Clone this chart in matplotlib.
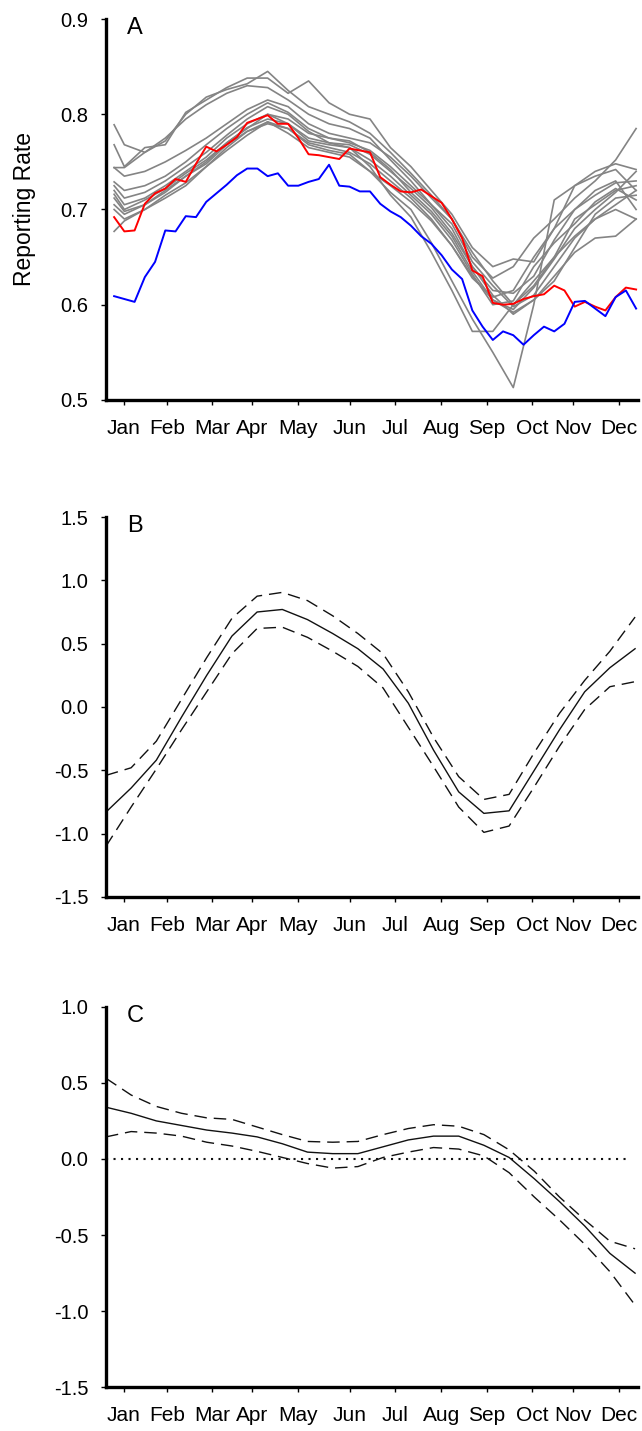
"""
Seasonal reporting rate: raw weekly curves (A), seasonal effect (B)
and its change (C) with confidence bands.
"""
import numpy as np
import matplotlib
matplotlib.use("Agg")
import matplotlib.pyplot as plt
from matplotlib.ticker import FormatStrFormatter

plt.rcParams["font.family"] = ["Liberation Sans", "DejaVu Sans"]
plt.rcParams["axes.unicode_minus"] = False

MONTHS = ["Jan", "Feb", "Mar", "Apr", "May", "Jun",
          "Jul", "Aug", "Sep", "Oct", "Nov", "Dec"]
MONTH_TICKS = [1.96, 6.16, 10.56, 14.47, 18.97, 24.05,
               28.45, 32.95, 37.44, 41.84, 45.85, 50.35]

# panel A: weekly reporting rate
WEEKS = list(range(1, 53))
RED = [0.692, 0.677, 0.678, 0.706, 0.717, 0.722, 0.732, 0.729, 0.748, 0.766,
       0.761, 0.768, 0.776, 0.791, 0.795, 0.799, 0.790, 0.790, 0.775, 0.758,
       0.757, 0.755, 0.753, 0.764, 0.762, 0.760, 0.734, 0.726, 0.719, 0.718,
       0.721, 0.714, 0.707, 0.690, 0.670, 0.636, 0.630, 0.602, 0.600, 0.601,
       0.606, 0.609, 0.611, 0.620, 0.615, 0.598, 0.603, 0.598, 0.594, 0.608,
       0.618, 0.616]
BLUE = [0.609, 0.606, 0.603, 0.629, 0.645, 0.678, 0.677, 0.693, 0.692, 0.708,
        0.717, 0.726, 0.736, 0.743, 0.743, 0.735, 0.738, 0.725, 0.725, 0.729,
        0.732, 0.747, 0.725, 0.724, 0.719, 0.719, 0.706, 0.698, 0.692, 0.683,
        0.672, 0.664, 0.652, 0.637, 0.627, 0.594, 0.577, 0.563, 0.572, 0.568,
        0.558, 0.568, 0.577, 0.572, 0.580, 0.603, 0.604, 0.596, 0.588, 0.608,
        0.615, 0.596]

GRAY_WEEKS = [1, 2, 4, 6, 8, 10, 12, 14, 16, 18, 20, 22, 24, 26,
              28, 30, 32, 34, 36, 38, 40, 42, 44, 46, 48, 50, 52]
GRAY = [
    [0.789, 0.768, 0.760, 0.772, 0.800, 0.818, 0.826, 0.832, 0.845, 0.825, 0.808, 0.800, 0.792, 0.780,
     0.760, 0.738, 0.715, 0.690, 0.650, 0.628, 0.640, 0.670, 0.690, 0.712, 0.730, 0.752, 0.785],
    [0.768, 0.745, 0.765, 0.768, 0.802, 0.815, 0.828, 0.838, 0.838, 0.822, 0.835, 0.812, 0.800, 0.795,
     0.765, 0.745, 0.720, 0.695, 0.660, 0.640, 0.648, 0.645, 0.680, 0.725, 0.740, 0.748, 0.742],
    [0.744, 0.744, 0.760, 0.775, 0.795, 0.810, 0.822, 0.830, 0.828, 0.815, 0.800, 0.790, 0.785, 0.775,
     0.752, 0.730, 0.705, 0.680, 0.640, 0.615, 0.612, 0.630, 0.668, 0.700, 0.715, 0.728, 0.730],
    [0.744, 0.735, 0.740, 0.750, 0.762, 0.775, 0.790, 0.805, 0.815, 0.808, 0.790, 0.780, 0.775, 0.770,
     0.755, 0.735, 0.712, 0.690, 0.655, 0.625, 0.600, 0.620, 0.650, 0.690, 0.705, 0.720, 0.725],
    [0.729, 0.720, 0.725, 0.735, 0.750, 0.768, 0.785, 0.800, 0.812, 0.802, 0.785, 0.775, 0.770, 0.762,
     0.745, 0.725, 0.705, 0.685, 0.645, 0.620, 0.598, 0.610, 0.640, 0.670, 0.690, 0.705, 0.720],
    [0.725, 0.712, 0.718, 0.730, 0.745, 0.760, 0.778, 0.795, 0.808, 0.800, 0.782, 0.770, 0.768, 0.758,
     0.740, 0.722, 0.702, 0.675, 0.640, 0.610, 0.590, 0.605, 0.625, 0.660, 0.695, 0.712, 0.715],
    [0.720, 0.705, 0.712, 0.725, 0.740, 0.755, 0.775, 0.790, 0.800, 0.795, 0.780, 0.775, 0.772, 0.760,
     0.742, 0.718, 0.698, 0.672, 0.635, 0.605, 0.595, 0.618, 0.648, 0.680, 0.700, 0.718, 0.740],
    [0.716, 0.700, 0.710, 0.722, 0.738, 0.752, 0.770, 0.786, 0.795, 0.790, 0.772, 0.768, 0.765, 0.752,
     0.735, 0.715, 0.695, 0.668, 0.632, 0.600, 0.604, 0.640, 0.665, 0.685, 0.708, 0.722, 0.710],
    [0.712, 0.698, 0.705, 0.720, 0.735, 0.748, 0.768, 0.782, 0.790, 0.785, 0.770, 0.765, 0.760, 0.748,
     0.730, 0.712, 0.690, 0.662, 0.628, 0.608, 0.615, 0.650, 0.680, 0.700, 0.720, 0.730, 0.700],
    [0.705, 0.695, 0.705, 0.718, 0.735, 0.750, 0.770, 0.785, 0.800, 0.790, 0.775, 0.770, 0.765, 0.745,
     0.715, 0.692, 0.655, 0.615, 0.572, 0.572, 0.600, 0.625, 0.650, 0.672, 0.690, 0.700, 0.690],
    [0.700, 0.690, 0.700, 0.715, 0.728, 0.745, 0.762, 0.778, 0.792, 0.785, 0.768, 0.762, 0.758, 0.740,
     0.718, 0.700, 0.665, 0.625, 0.585, 0.550, 0.513, 0.600, 0.710, 0.725, 0.735, 0.742, 0.720],
    [0.677, 0.688, 0.700, 0.712, 0.725, 0.745, 0.765, 0.782, 0.792, 0.780, 0.765, 0.760, 0.755, 0.740,
     0.725, 0.708, 0.688, 0.662, 0.630, 0.605, 0.592, 0.605, 0.630, 0.655, 0.670, 0.672, 0.690],
]

# panels B and C: fitted seasonal curves with upper / lower bands
FIT_WEEKS = np.linspace(0.2, 51.9, 22)
B_MID = [-0.83, -0.64, -0.42, -0.08, 0.25, 0.56, 0.75, 0.77, 0.69, 0.58, 0.46,
         0.30, 0.03, -0.34, -0.67, -0.84, -0.82, -0.50, -0.18, 0.12, 0.31, 0.46]
B_UP = [-0.54, -0.48, -0.27, 0.06, 0.39, 0.70, 0.875, 0.905, 0.84, 0.72, 0.58,
        0.42, 0.12, -0.24, -0.55, -0.73, -0.69, -0.36, -0.05, 0.21, 0.44, 0.71]
B_LOW = [-1.10, -0.79, -0.49, -0.18, 0.12, 0.42, 0.62, 0.63, 0.55, 0.44, 0.32,
         0.15, -0.16, -0.47, -0.79, -0.99, -0.94, -0.63, -0.31, -0.02, 0.16, 0.20]

C_MID = [0.34, 0.30, 0.25, 0.22, 0.19, 0.17, 0.145, 0.10, 0.045, 0.035, 0.035,
         0.08, 0.125, 0.15, 0.15, 0.09, 0.01, -0.13, -0.28, -0.44, -0.62, -0.75]
C_UP = [0.53, 0.42, 0.345, 0.30, 0.27, 0.26, 0.21, 0.16, 0.115, 0.11, 0.115,
        0.16, 0.20, 0.225, 0.215, 0.16, 0.06, -0.08, -0.25, -0.40, -0.54, -0.59]
C_LOW = [0.145, 0.18, 0.17, 0.15, 0.11, 0.085, 0.05, 0.01, -0.03, -0.06, -0.05,
         0.01, 0.045, 0.075, 0.065, 0.02, -0.09, -0.25, -0.40, -0.56, -0.74, -0.96]


def style_axes(ax, ylim, yticks, letter):
    ax.set_xlim(0.2, 52.2)
    ax.set_ylim(*ylim)
    ax.set_yticks(yticks)
    ax.yaxis.set_major_formatter(FormatStrFormatter("%.1f"))
    ax.set_xticks(MONTH_TICKS)
    ax.set_xticklabels(MONTHS)
    for side in ("top", "right"):
        ax.spines[side].set_visible(False)
    ax.spines["left"].set_linewidth(2.4)
    ax.spines["bottom"].set_linewidth(2.4)
    ax.tick_params(axis="y", direction="out", length=3.5, width=1.0,
                   labelsize=14.5, pad=9)
    ax.tick_params(axis="x", direction="out", length=3.5, width=1.0,
                   labelsize=15, pad=10)
    ax.text(0.04, 1.005, letter, transform=ax.transAxes, fontsize=17,
            va="top", ha="left")


def main():
    fig = plt.figure(figsize=(6.42, 14.31), dpi=100)
    left, width = 0.165, 0.829

    # A
    ax = fig.add_axes([left, 0.7205, width, 0.2662])
    for g in GRAY:
        ax.plot(GRAY_WEEKS, g, color="#848484", lw=1.2)
    ax.plot(WEEKS, RED, color="#ff0000", lw=1.4)
    ax.plot(WEEKS, BLUE, color="#0000ff", lw=1.4)
    style_axes(ax, (0.5, 0.9), [0.5, 0.6, 0.7, 0.8, 0.9], "A")
    ax.set_ylabel("Reporting Rate", fontsize=16.5, labelpad=18)

    # B
    ax = fig.add_axes([left, 0.3732, width, 0.2655])
    ax.plot(FIT_WEEKS, B_MID, color="#111111", lw=1.0)
    ax.plot(FIT_WEEKS, B_UP, color="#111111", lw=1.0, ls=(0, (9, 5)))
    ax.plot(FIT_WEEKS, B_LOW, color="#111111", lw=1.0, ls=(0, (9, 5)))
    style_axes(ax, (-1.5, 1.5), [-1.5, -1.0, -0.5, 0.0, 0.5, 1.0, 1.5], "B")

    # C
    ax = fig.add_axes([left, 0.0305, width, 0.266])
    ax.plot([0.2, 51.2], [0, 0], color="#111111", lw=1.5, ls=(0, (1, 2.6)))
    ax.plot(FIT_WEEKS, C_MID, color="#111111", lw=1.0)
    ax.plot(FIT_WEEKS, C_UP, color="#111111", lw=1.0, ls=(0, (9, 5)))
    ax.plot(FIT_WEEKS, C_LOW, color="#111111", lw=1.0, ls=(0, (9, 5)))
    style_axes(ax, (-1.5, 1.0), [-1.5, -1.0, -0.5, 0.0, 0.5, 1.0], "C")

    fig.savefig("out.png", dpi=100)


if __name__ == "__main__":
    main()
